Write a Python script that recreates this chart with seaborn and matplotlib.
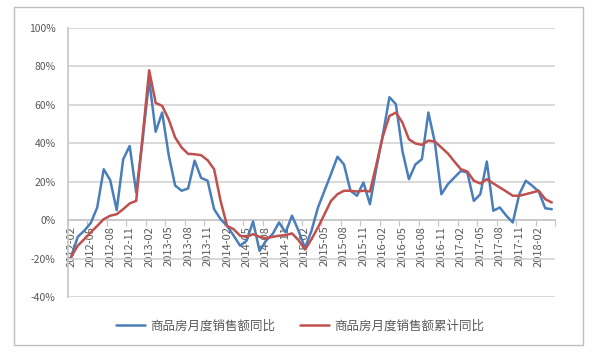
import pandas as pd
import numpy as np
import seaborn as sns
import matplotlib.pyplot as plt
from matplotlib.patches import Rectangle
from matplotlib.ticker import FixedLocator, FixedFormatter, FuncFormatter

# monthly categories 2012-02 .. 2018-04
months = pd.date_range("2012-02-01", "2018-04-01", freq="MS").strftime("%Y-%m").tolist()

# 商品房月度销售额同比 (%)
monthly_yoy = [-19, -8.7, -5.5, -1.5, 6.6, 26.5, 20.8, 5.2, 31.7, 38.6,
               14.4, 42, 73, 46, 56, 34, 18, 15.3, 16.5, 31,
               22, 20.5, 5.7, 0.5, -3, -8, -13.3, -10.7, -0.7, -16,
               -10.7, -7.3, -1.2, -6.4, 2.3, -5.5, -14.5, -5.5, 6.6, 15.3,
               24, 33, 29, 15.3, 12.7, 19.6, 8.3, 27.4, 44.7, 64,
               60.3, 36, 21.3, 29, 31.7, 56, 40.4, 13.5, 18.7, 22.2,
               25.6, 24.8, 10, 13.5, 30.5, 4.9, 6.6, 2.3, -1.2, 13.5,
               20.5, 17.9, 14.9, 6.2, 5.7]

# 商品房月度销售额累计同比 (%)
cumulative_yoy = [-19, -13.3, -9.9, -6.4, -3, 0.5, 2.3, 3.1, 5.7, 8.7,
                  10, 44, 78, 61, 59.5, 52.5, 43, 37.8, 34.5, 34.3,
                  33.8, 31.2, 26.5, 10, -3, -4.7, -8.1, -8.7, -7.3, -8.7,
                  -9.4, -8.7, -8.1, -7.8, -6.9, -10.4, -15.3, -9.9, -3.8, 3.1,
                  10, 13.5, 15.3, 15.3, 14.9, 15.3, 14.9, 29, 43.8, 54.2,
                  56, 50.8, 42.1, 39.9, 39.2, 41.4, 40.9, 37.8, 34.7, 30.5,
                  26.5, 25.3, 20.5, 19.1, 21.3, 19.1, 17, 14.9, 12.7, 12.7,
                  13.5, 14.4, 15.3, 10.9, 9.2]

series_names = ["商品房月度销售额同比", "商品房月度销售额累计同比"]
colors = ["#4a7ebb", "#c0504d"]

idx = np.arange(len(months))
df = pd.concat([
    pd.DataFrame({"i": idx, "value": monthly_yoy, "series": series_names[0]}),
    pd.DataFrame({"i": idx, "value": cumulative_yoy, "series": series_names[1]}),
])

sns.set_theme(style="white")
plt.rcParams["font.family"] = ["Noto Sans CJK SC", "DejaVu Sans"]

fig = plt.figure(figsize=(6, 3.52), dpi=100)
ax = fig.add_axes([68 / 600, 1 - 297 / 352, (555 - 68) / 600, (297 - 28) / 352])

sns.lineplot(data=df, x="i", y="value", hue="series", hue_order=series_names,
             palette=colors, linewidth=1.8, ax=ax, legend=False, zorder=3)

ax.set_xlabel("")
ax.set_ylabel("")
# x axis crosses at 0 (set before tick styling, it resets ticks)
ax.spines["bottom"].set_position(("data", 0))
ax.spines["bottom"].set_color("#c8c8c8")
ax.spines["left"].set_color("#c8c8c8")
ax.spines["top"].set_visible(False)
ax.spines["right"].set_visible(False)

ax.set_xlim(-0.5, len(months) - 0.5)
ax.set_ylim(-40, 100)
ax.set_yticks(range(-40, 101, 20))
ax.yaxis.set_major_formatter(FuncFormatter(lambda v, p: f"{int(v)}%"))
ax.yaxis.grid(True, color="#d0d0d0", linewidth=1.1)
ax.set_axisbelow(True)

# category labels every 3 months, tick marks between categories
ax.xaxis.set_major_locator(FixedLocator(idx[::3]))
ax.xaxis.set_major_formatter(FixedFormatter(months[::3]))
ax.xaxis.set_minor_locator(FixedLocator(np.arange(-0.5, len(months), 3)))
ax.tick_params(axis="x", which="major", length=0, pad=4, labelsize=8,
               labelrotation=90, colors="#595959")
ax.tick_params(axis="x", which="minor", bottom=True, length=4, width=0.9, color="#c8c8c8")
ax.tick_params(axis="y", length=0, pad=9, labelsize=7.5, colors="#595959")

handles = [plt.Line2D([], [], color=c, linewidth=1.8) for c in colors]
fig.legend(handles, series_names, loc="center", bbox_to_anchor=(0.5, 1 - 326 / 352),
           ncol=2, frameon=False, fontsize=9, handlelength=2.3, handletextpad=0.4,
           columnspacing=2.0, labelcolor="#595959")

fig.patches.append(Rectangle((14 / 600, 7 / 352), (583 - 14) / 600, (345 - 7) / 352,
                             transform=fig.transFigure, fill=False,
                             edgecolor="#bfbfbf", linewidth=1))

fig.savefig("out.png", dpi=100)
